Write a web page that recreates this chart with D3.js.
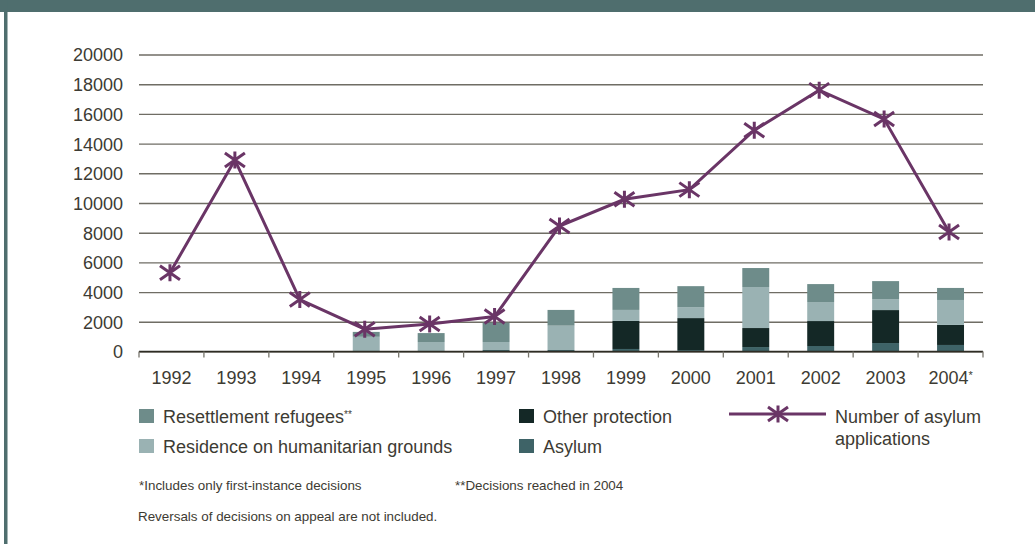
<!DOCTYPE html>
<html>
<head>
<meta charset="utf-8">
<script src="https://cdn.jsdelivr.net/npm/d3@7"></script>
<style>
  body { margin: 0; background: #fff; }
  svg { display: block; font-family: "Liberation Sans", Arial, sans-serif; }
  .tick text { fill: #3d3b33; font-size: 18px; }
</style>
</head>
<body>
<svg width="1035" height="544"></svg>
<script>
// values
var years = ["1992", "1993", "1994", "1995", "1996", "1997", "1998", "1999", "2000", "2001", "2002", "2003", "2004"];
var asylum = [0, 0, 0, 0, 0, 100, 100, 170, 100, 300, 370, 570, 440];
var otherProtection = [0, 0, 0, 0, 0, 0, 0, 1890, 2150, 1280, 1680, 2220, 1350];
var humanitarian = [0, 0, 0, 990, 640, 540, 1640, 740, 740, 2760, 1280, 740, 1680];
var resettlement = [0, 0, 0, 330, 600, 1300, 1060, 1480, 1410, 1280, 1210, 1210, 810];
var applications = [5300, 12900, 3500, 1500, 1850, 2350, 8450, 10250, 10900, 14900, 17600, 15650, 8050];
var yTicks = [0, 2000, 4000, 6000, 8000, 10000, 12000, 14000, 16000, 18000, 20000];

var seriesKeys = ["asylum", "other", "humanitarian", "resettlement"];
var seriesColor = {
  asylum: "#3e6367",
  other: "#142826",
  humanitarian: "#9ab2b3",
  resettlement: "#6e8c8a"
};
var lineColor = "#6a3566";
var textColor = "#3d3b33";

var svg = d3.select("svg"),
    width = +svg.attr("width"),
    height = +svg.attr("height");

var left = 139, right = 983;

var table = years.map(function(yr, i) {
  return {
    year: yr,
    asylum: asylum[i],
    other: otherProtection[i],
    humanitarian: humanitarian[i],
    resettlement: resettlement[i],
    applications: applications[i]
  };
});

var x = d3.scaleBand()
    .domain(years)
    .range([left, right]);

var y = d3.scaleLinear()
    .domain([0, 20000])
    .range([351.5, 54.5]);

var barWidth = x.bandwidth() * 0.415;

// frame
svg.append("rect")
    .attr("x", 0).attr("y", 0)
    .attr("width", width).attr("height", 12)
    .attr("fill", "#4f6e6e");
svg.append("rect")
    .attr("x", 4).attr("y", 0)
    .attr("width", 3.5).attr("height", height)
    .attr("fill", "#4f6e6e");

// gridlines + y labels
var yAxis = svg.append("g")
    .attr("transform", "translate(" + left + ",0)")
    .call(d3.axisLeft(y)
      .tickValues(yTicks)
      .tickSize(-(right - left))
      .tickPadding(16)
      .tickFormat(d3.format("d")));
yAxis.select(".domain").remove();
yAxis.selectAll(".tick line")
    .attr("stroke", "#6f6d64")
    .attr("stroke-width", 1.4);
yAxis.selectAll(".tick text").attr("dy", "0.36em");

// stacked bars
var stack = d3.stack().keys(seriesKeys);
var layers = stack(table);

svg.append("g")
  .selectAll("g")
  .data(layers)
  .enter().append("g")
    .attr("fill", function(d) { return seriesColor[d.key]; })
  .selectAll("rect")
  .data(function(d) { return d; })
  .enter().append("rect")
    .attr("x", function(d) { return x(d.data.year) + (x.bandwidth() - barWidth) / 2; })
    .attr("y", function(d) { return y(d[1]); })
    .attr("width", barWidth)
    .attr("height", function(d) { return y(d[0]) - y(d[1]); });

// x axis baseline and boundary ticks
var base = svg.append("g");
base.append("line")
    .attr("x1", left).attr("x2", right)
    .attr("y1", y(0)).attr("y2", y(0))
    .attr("stroke", "#2e2c24")
    .attr("stroke-width", 1.3);
base.selectAll(".bt")
    .data(years.map(function(d) { return x(d); }).concat([right]))
  .enter().append("line")
    .attr("class", "bt")
    .attr("x1", function(d) { return d; }).attr("x2", function(d) { return d; })
    .attr("y1", y(0)).attr("y2", y(0) + 6)
    .attr("stroke", "#77756c")
    .attr("stroke-width", 1.3);

var xAxis = svg.append("g")
    .attr("transform", "translate(0," + y(0) + ")")
    .call(d3.axisBottom(x).tickSize(0).tickPadding(20));
xAxis.select(".domain").remove();
xAxis.selectAll(".tick text")
    .filter(function(d) { return d === "2004"; })
    .append("tspan")
    .attr("dy", "-0.45em")
    .style("font-size", "11px")
    .text("*");

// applications line
var line = d3.line()
    .x(function(d) { return x(d.year) + x.bandwidth() / 2 - 1.5; })
    .y(function(d) { return y(d.applications); });

svg.append("path")
    .datum(table)
    .attr("fill", "none")
    .attr("stroke", lineColor)
    .attr("stroke-width", 3)
    .attr("d", line);

function starPath(cx, cy) {
  var w = 10, h = 7, v = 8.5;
  return "M" + (cx - w) + "," + (cy - h) + "L" + (cx + w) + "," + (cy + h) +
         "M" + (cx - w) + "," + (cy + h) + "L" + (cx + w) + "," + (cy - h) +
         "M" + cx + "," + (cy - v) + "L" + cx + "," + (cy + v);
}

svg.append("g")
  .selectAll("path")
  .data(table)
  .enter().append("path")
    .attr("d", function(d) { return starPath(x(d.year) + x.bandwidth() / 2 - 1.5, y(d.applications)); })
    .attr("stroke", lineColor)
    .attr("stroke-width", 3)
    .attr("fill", "none");

// legend
var legendItems = [
  {key: "resettlement", label: "Resettlement refugees", sup: "**", x: 139, y: 423},
  {key: "humanitarian", label: "Residence on humanitarian grounds", x: 139, y: 453},
  {key: "other", label: "Other protection", x: 519, y: 423},
  {key: "asylum", label: "Asylum", x: 519, y: 453}
];

var legend = svg.append("g");
var li = legend.selectAll("g")
    .data(legendItems)
  .enter().append("g");
li.append("rect")
    .attr("x", function(d) { return d.x; })
    .attr("y", function(d) { return d.y - 14; })
    .attr("width", 15).attr("height", 14)
    .attr("fill", function(d) { return seriesColor[d.key]; });
var lt = li.append("text")
    .attr("x", function(d) { return d.x + 24; })
    .attr("y", function(d) { return d.y; })
    .attr("fill", textColor)
    .style("font-size", "18px")
    .text(function(d) { return d.label; });
lt.filter(function(d) { return d.sup; })
  .append("tspan")
    .attr("dy", "-0.5em")
    .style("font-size", "10px")
    .text(function(d) { return d.sup; });

legend.append("line")
    .attr("x1", 729).attr("x2", 826)
    .attr("y1", 414).attr("y2", 414)
    .attr("stroke", lineColor)
    .attr("stroke-width", 3);
legend.append("path")
    .attr("d", starPath(778, 414))
    .attr("stroke", lineColor)
    .attr("stroke-width", 3)
    .attr("fill", "none");
var lineLabel = legend.append("text")
    .attr("x", 835)
    .attr("y", 423)
    .attr("fill", textColor)
    .style("font-size", "18px");
lineLabel.append("tspan").attr("x", 835).text("Number of asylum");
lineLabel.append("tspan").attr("x", 835).attr("dy", 22).text("applications");

// footnotes
var notes = [
  {text: "*Includes only first-instance decisions", x: 139, y: 490},
  {text: "**Decisions reached in 2004", x: 455, y: 490},
  {text: "Reversals of decisions on appeal are not included.", x: 138, y: 521}
];
svg.append("g")
  .selectAll("text")
  .data(notes)
  .enter().append("text")
    .attr("x", function(d) { return d.x; })
    .attr("y", function(d) { return d.y; })
    .attr("fill", textColor)
    .style("font-size", "13.4px")
    .text(function(d) { return d.text; });
</script>
</body>
</html>
